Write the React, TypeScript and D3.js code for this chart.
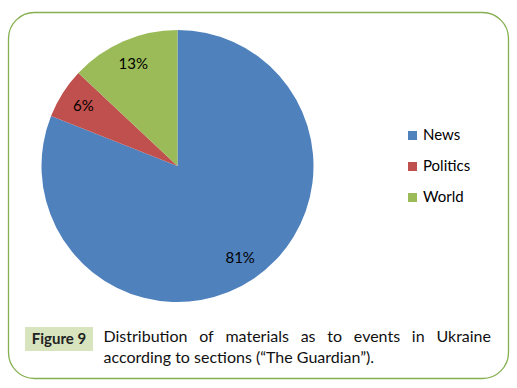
import React, { useEffect, useRef } from 'react';
import * as d3 from 'd3';

const sections = ['News', 'Politics', 'World'];
const shares = [81, 6, 13];
const colors = ['#4f81bd', '#c0504d', '#9bbb59'];
const figureLabel = 'Figure 9';
const captionLine1 = 'Distribution of materials as to events in Ukraine';
const captionLine2 = 'according to sections (\u201cThe Guardian\u201d).';

const App = () => {
  const ref = useRef<SVGSVGElement>(null);

  useEffect(() => {
    const svg = d3.select(ref.current);
    svg.selectAll('*').remove();
    const font = 'Lato, "Open Sans", sans-serif';

    // frame
    svg.append('rect')
      .attr('x', 8.5).attr('y', 12.5)
      .attr('width', 500).attr('height', 366)
      .attr('rx', 26).attr('ry', 26)
      .attr('fill', 'white')
      .attr('stroke', '#84b04f')
      .attr('stroke-width', 1.3);

    const data = sections.map((name, i) => ({ name, value: shares[i], color: colors[i] }));
    const cx = 177.5, cy = 166, r = 136;

    const pie = d3.pie<any>().value(d => d.value).sort(null);
    const arc = d3.arc<any>().innerRadius(0).outerRadius(r);
    const labelArc = d3.arc<any>().innerRadius(r * 0.82).outerRadius(r * 0.82);

    const g = svg.append('g').attr('transform', `translate(${cx},${cy})`);
    const slices = g.selectAll('.arc').data(pie(data)).enter().append('g');
    slices.append('path')
      .attr('d', arc)
      .attr('fill', d => d.data.color);

    slices.append('text')
      .attr('transform', d => {
        const [x, y] = labelArc.centroid(d);
        return `translate(${x},${y})`;
      })
      .attr('dy', '0.35em')
      .attr('text-anchor', 'middle')
      .attr('font-family', font)
      .attr('font-size', '15px')
      .attr('fill', '#000')
      .text(d => `${d.data.value}%`);

    // legend
    const legend = svg.append('g').attr('transform', 'translate(408,131)');
    const items = legend.selectAll('g').data(data).enter().append('g')
      .attr('transform', (d, i) => `translate(0,${i * 31})`);
    items.append('rect').attr('width', 9).attr('height', 9).attr('fill', d => d.color);
    items.append('text')
      .attr('x', 15).attr('y', 9)
      .attr('font-family', font)
      .attr('font-size', '15px')
      .attr('fill', '#000')
      .text(d => d.name);

    // caption
    svg.append('rect')
      .attr('x', 25).attr('y', 327).attr('width', 68).attr('height', 24)
      .attr('fill', '#d7e4bd');
    svg.append('text')
      .attr('x', 59).attr('y', 344)
      .attr('text-anchor', 'middle')
      .attr('font-family', font)
      .attr('font-weight', 'bold')
      .attr('font-size', '15px')
      .attr('fill', '#222')
      .text(figureLabel);

    // justified first line
    const x0 = 103.5, x1 = 491;
    const words = captionLine1.split(' ');
    const tmp = words.map(w => svg.append('text')
      .attr('font-family', font).attr('font-size', '16px').attr('fill', '#111')
      .attr('y', 342).text(w));
    const widths = tmp.map(t => (t.node() as SVGTextElement).getComputedTextLength());
    const total = d3.sum(widths);
    const gap = (x1 - x0 - total) / (words.length - 1);
    let x = x0;
    tmp.forEach((t, i) => { t.attr('x', x); x += widths[i] + gap; });

    svg.append('text')
      .attr('x', x0).attr('y', 363)
      .attr('font-family', font).attr('font-size', '16px').attr('fill', '#111')
      .text(captionLine2);
  }, []);

  return (
    <svg ref={ref} width={517} height={388}
      style={{ position: 'absolute', left: 0, top: 0, background: 'white' }} />
  );
};

export default App;
